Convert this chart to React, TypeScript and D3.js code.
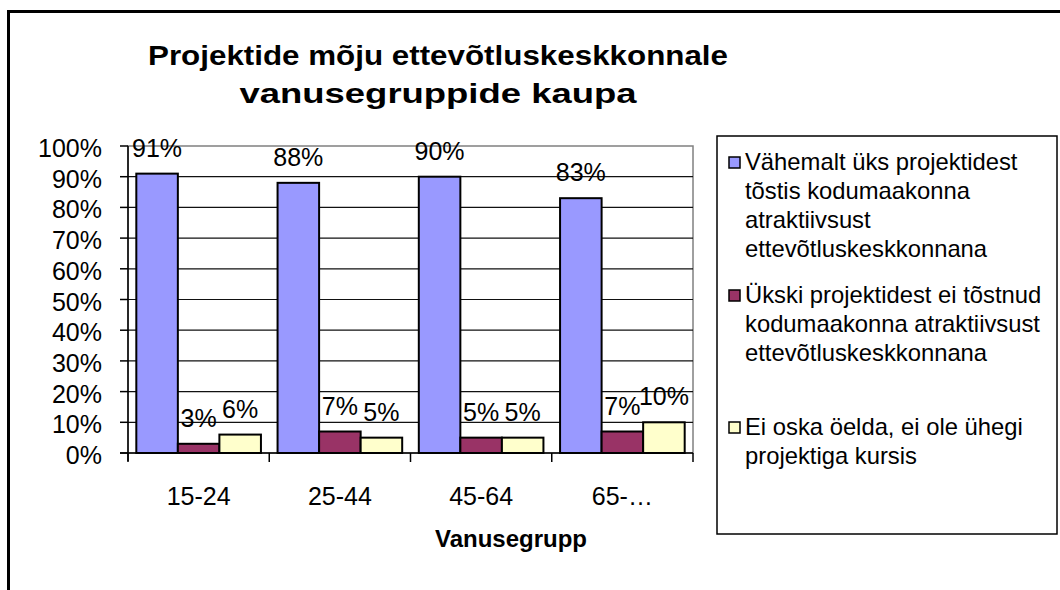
import React from "react";
import * as d3 from "d3";

const categories = ["15-24", "25-44", "45-64", "65-…"];
const seriesNames = [
  ["Vähemalt üks projektidest", "tõstis kodumaakonna", "atraktiivsust", "ettevõtluskeskkonnana"],
  ["Ükski projektidest ei tõstnud", "kodumaakonna atraktiivsust", "ettevõtluskeskkonnana"],
  ["Ei oska öelda, ei ole ühegi", "projektiga kursis"],
];
const seriesValues = [
  [91, 88, 90, 83],
  [3, 7, 5, 7],
  [6, 5, 5, 10],
];
const colors = ["#9999FF", "#993366", "#FFFFCC"];
const yTicks = [0, 10, 20, 30, 40, 50, 60, 70, 80, 90, 100];
const titleLines = ["Projektide mõju ettevõtluskeskkonnale", "vanusegruppide kaupa"];
const xTitle = "Vanusegrupp";

const W = 1060;
const H = 590;
const plot = { left: 128, right: 693, top: 146, bottom: 453 };
const FONT = "'Liberation Sans', Arial, sans-serif";

export default function App() {
  const groupScale = d3
    .scaleBand<string>()
    .domain(categories)
    .range([plot.left, plot.right])
    .padding(0);
  const step = groupScale.bandwidth();
  const barW = step / 3.4;
  const y = d3.scaleLinear().domain([0, 100]).range([plot.bottom, plot.top]);
  const tickX = categories.map((c) => groupScale(c)!).concat([plot.right]);

  const legendBaselines = [
    [170, 199, 228, 257],
    [303, 332, 361],
    [435, 464],
  ];
  const titleWidths = [580, 397];

  return (
    <svg width={W} height={H} style={{ position: "absolute", left: 0, top: 0, background: "#fff" }} fontFamily={FONT}>
      <rect x={0} y={0} width={W} height={H} fill="#fff" />
      {/* outer chart border */}
      <rect x={8.5} y={11.5} width={W + 20} height={H + 20} fill="none" stroke="#000" strokeWidth={3} />

      {/* title */}
      {titleLines.map((t, i) => (
        <text
          key={i}
          x={438}
          y={65 + i * 38}
          textAnchor="middle"
          fontSize={28}
          fontWeight="bold"
          fill="#000"
          textLength={titleWidths[i]}
          lengthAdjust="spacingAndGlyphs"
        >
          {t}
        </text>
      ))}

      {/* plot area border */}
      <rect x={plot.left} y={plot.top} width={plot.right - plot.left} height={plot.bottom - plot.top} fill="#fff" stroke="#808080" strokeWidth={1.5} />

      {/* gridlines */}
      {yTicks.slice(1, -1).map((t) => (
        <line key={t} x1={plot.left} x2={plot.right} y1={y(t)} y2={y(t)} stroke="#111" strokeWidth={1.2} />
      ))}

      {/* bars */}
      {seriesValues.map((vals, si) =>
        vals.map((v, ci) => {
          const gx = groupScale(categories[ci])! + barW * 0.2;
          const bx = gx + si * barW;
          return (
            <rect
              key={`${si}-${ci}`}
              x={bx}
              y={y(v)}
              width={barW}
              height={y(0) - y(v)}
              fill={colors[si]}
              stroke="#000"
              strokeWidth={2}
            />
          );
        })
      )}

      {/* data labels */}
      {seriesValues.map((vals, si) =>
        vals.map((v, ci) => {
          const gx = groupScale(categories[ci])! + barW * 0.2;
          const cx = gx + si * barW + barW / 2;
          return (
            <text key={`l${si}-${ci}`} x={cx} y={y(v) - 17} textAnchor="middle" fontSize={25} fill="#000">
              {v}%
            </text>
          );
        })
      )}

      {/* y axis */}
      <line x1={plot.left} x2={plot.left} y1={plot.top} y2={plot.bottom + 8} stroke="#000" strokeWidth={1.5} />
      {yTicks.map((t) => (
        <g key={t}>
          <line x1={plot.left - 8} x2={plot.left} y1={y(t)} y2={y(t)} stroke="#000" strokeWidth={1.5} />
          <text x={102} y={y(t) + 11} textAnchor="end" fontSize={25} fill="#000">
            {t}%
          </text>
        </g>
      ))}

      {/* x axis */}
      <line x1={plot.left - 8} x2={plot.right} y1={plot.bottom} y2={plot.bottom} stroke="#000" strokeWidth={1.5} />
      {tickX.map((tx, i) => (
        <line key={i} x1={tx} x2={tx} y1={plot.bottom} y2={plot.bottom + 9} stroke="#000" strokeWidth={1.5} />
      ))}
      {categories.map((c) => (
        <text key={c} x={groupScale(c)! + step / 2} y={505} textAnchor="middle" fontSize={25} fill="#000">
          {c}
        </text>
      ))}
      <text x={511} y={547} textAnchor="middle" fontSize={24} fontWeight="bold" fill="#000">
        {xTitle}
      </text>

      {/* legend */}
      <rect x={717} y={136} width={340} height={398} fill="#fff" stroke="#000" strokeWidth={1.5} />
      {seriesNames.map((lines, si) => (
        <g key={si}>
          <rect
            x={729}
            y={legendBaselines[si][0] - 13}
            width={11}
            height={11}
            fill={colors[si]}
            stroke="#000"
            strokeWidth={1.5}
          />
          {lines.map((ln, li) => (
            <text key={li} x={745} y={legendBaselines[si][li]} fontSize={23.8} fill="#000">
              {ln}
            </text>
          ))}
        </g>
      ))}
    </svg>
  );
}
